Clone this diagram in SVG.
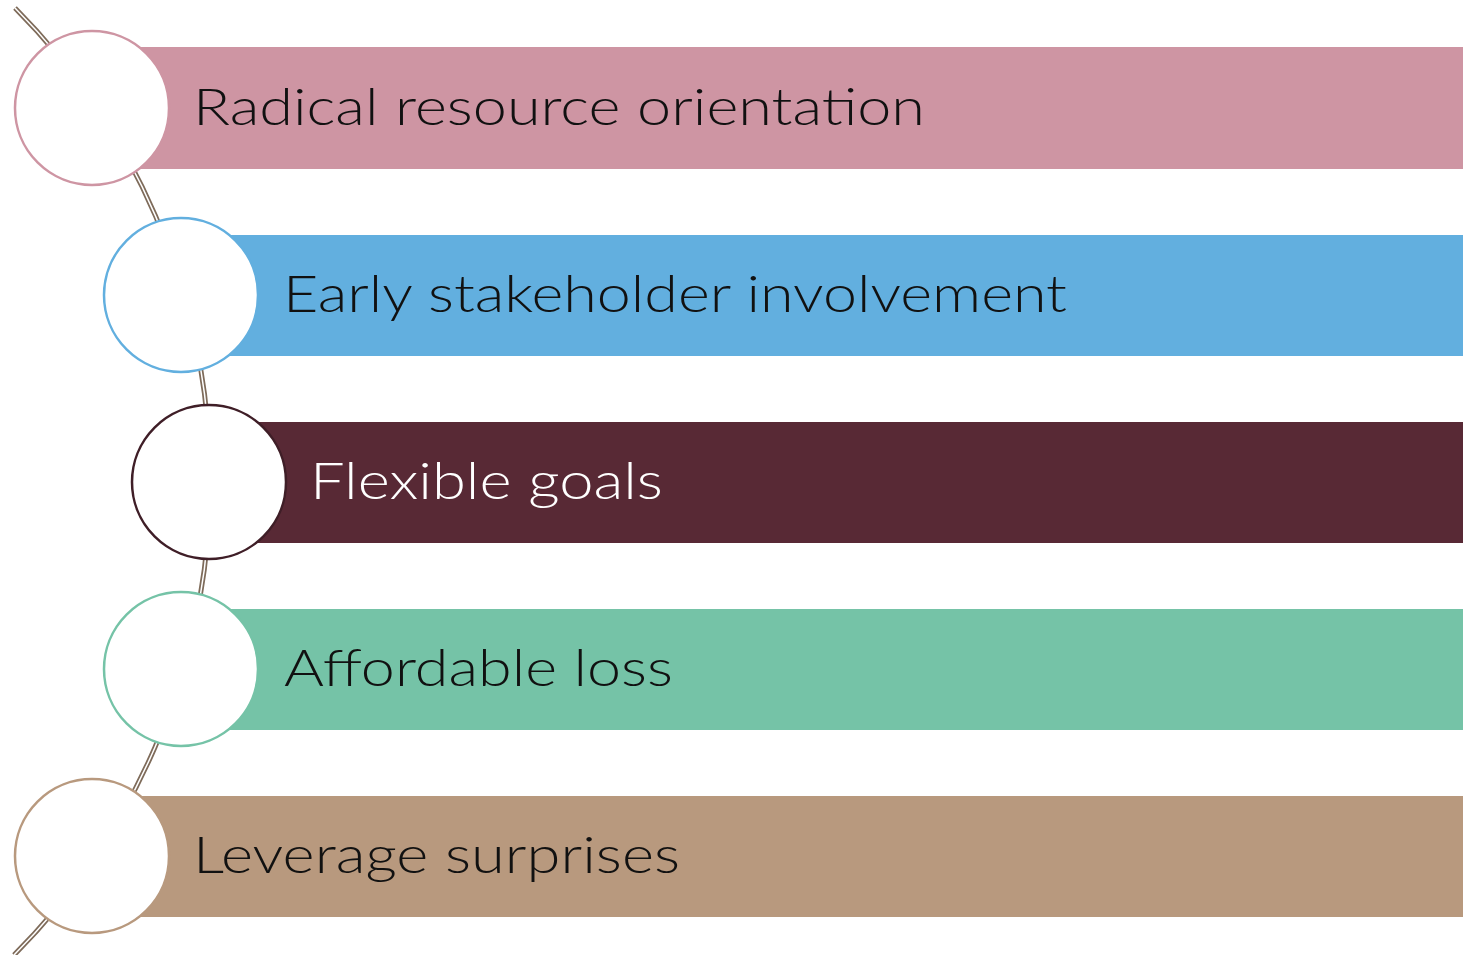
<svg xmlns="http://www.w3.org/2000/svg" width="1463" height="955" viewBox="0 0 1463 955">
<style>
.lbl{font-family:Lato,"Open Sans","Liberation Sans",sans-serif;font-weight:300;font-size:52px}
.circ{fill:#ffffff;stroke-width:2.5}
</style>
<rect width="1463" height="955" fill="#ffffff"/>
<g id="connectors">
<path d="M15,8 A671,671 0 0 1 14,955" fill="none" stroke="#7E6B5A" stroke-width="5"/>
<path d="M15,8 A671,671 0 0 1 14,955" fill="none" stroke="#ffffff" stroke-width="1.5"/>
</g>
<g id="node1">
<rect x="92" y="47" width="1371" height="122" fill="#CE95A3"/>
<circle class="circ" cx="92" cy="108" r="77" stroke="#CE95A3"/>
<text class="lbl" x="193" y="125" fill="#111111" textLength="732" lengthAdjust="spacingAndGlyphs">Radical resource orientation</text>
</g>
<g id="node2">
<rect x="181" y="235" width="1282" height="121" fill="#62AFDF"/>
<circle class="circ" cx="181" cy="295" r="77" stroke="#62AFDF"/>
<text class="lbl" x="283" y="312" fill="#111111" textLength="784" lengthAdjust="spacingAndGlyphs">Early stakeholder involvement</text>
</g>
<g id="node3">
<rect x="209" y="422" width="1254" height="121" fill="#582935"/>
<circle class="circ" cx="209" cy="482" r="77" stroke="#3F1E27"/>
<text class="lbl" x="310" y="499" fill="#ffffff" textLength="353" lengthAdjust="spacingAndGlyphs">Flexible goals</text>
</g>
<g id="node4">
<rect x="181" y="609" width="1282" height="121" fill="#75C3A7"/>
<circle class="circ" cx="181" cy="669" r="77" stroke="#75C3A7"/>
<text class="lbl" x="284" y="686" fill="#111111" textLength="389" lengthAdjust="spacingAndGlyphs">Affordable loss</text>
</g>
<g id="node5">
<rect x="92" y="796" width="1371" height="121" fill="#B8997E"/>
<circle class="circ" cx="92" cy="856" r="77" stroke="#B8997E"/>
<text class="lbl" x="193" y="873" fill="#111111" textLength="487" lengthAdjust="spacingAndGlyphs">Leverage surprises</text>
</g>
</svg>
